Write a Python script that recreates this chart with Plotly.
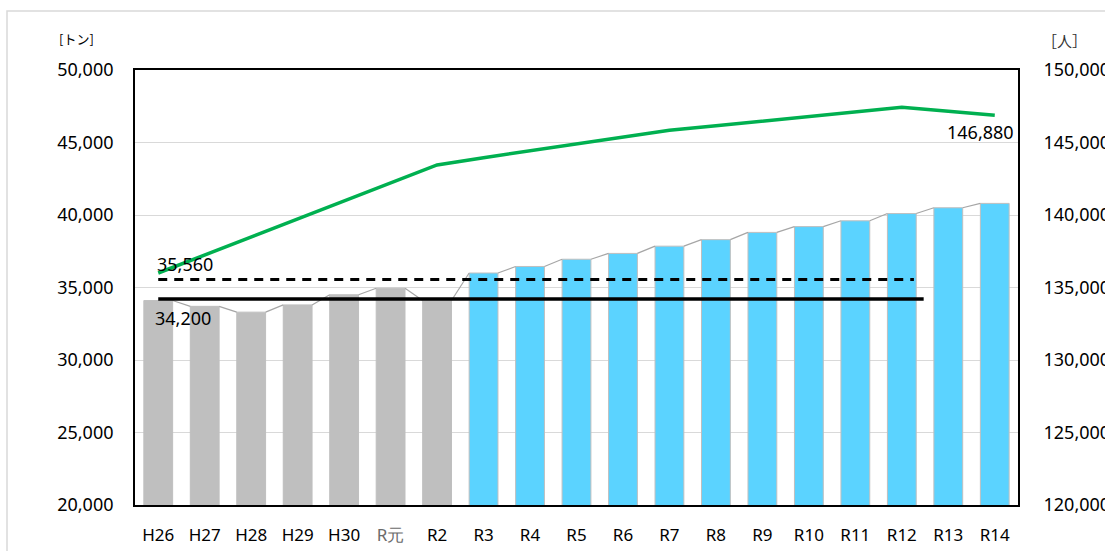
import plotly.graph_objects as go

categories = ["H26", "H27", "H28", "H29", "H30", "R元", "R2", "R3", "R4", "R5",
              "R6", "R7", "R8", "R9", "R10", "R11", "R12", "R13", "R14"]
actual_tons = [34100, 33700, 33300, 33800, 34500, 34950, 34100]
forecast_tons = [36000, 36450, 36950, 37350, 37850, 38300, 38800, 39200,
                 39600, 40100, 40500, 40800]
population = [136000, 137250, 138500, 139750, 140950, 142200, 143450, 143950,
              144430, 144900, 145380, 145850, 146150, 146480, 146800, 147120,
              147430, 147150, 146880]
target_dashed = 35560
target_solid = 34200
dashed_end_pos = 16.26
solid_end_pos = 16.47

BAR_W = 0.62
FONT = "Noto Sans"

n = len(categories)
xs = list(range(n))
all_tons = actual_tons + forecast_tons

fig = go.Figure()

fig.add_trace(go.Bar(x=xs[:len(actual_tons)], y=actual_tons, width=BAR_W,
                     marker=dict(color="#BFBFBF", line=dict(color="#BFBFBF", width=1)),
                     showlegend=False))
fig.add_trace(go.Bar(x=xs[len(actual_tons):], y=forecast_tons, width=BAR_W,
                     marker=dict(color="#5BD3FF", line=dict(color="#BFBFBF", width=1)),
                     showlegend=False))

# series lines connecting bar tops
sx, sy = [], []
for i in range(n - 1):
    sx += [xs[i] + BAR_W / 2, xs[i + 1] - BAR_W / 2, None]
    sy += [all_tons[i], all_tons[i + 1], None]
fig.add_trace(go.Scatter(x=sx, y=sy, mode="lines",
                         line=dict(color="#A6A6A6", width=1.2), showlegend=False,
                         hoverinfo="skip"))

fig.add_trace(go.Scatter(x=[xs[0], dashed_end_pos], y=[target_dashed] * 2, mode="lines",
                         line=dict(color="black", width=3, dash="9px,7px"),
                         showlegend=False))
fig.add_trace(go.Scatter(x=[xs[0], solid_end_pos], y=[target_solid] * 2, mode="lines",
                         line=dict(color="black", width=3.5),
                         showlegend=False))

fig.add_trace(go.Scatter(x=xs, y=population, mode="lines", yaxis="y2",
                         line=dict(color="#00B050", width=3.5), showlegend=False))

ticktext = [c if c != "R元" else '<span style="color:#6b6b6b">R元</span>' for c in categories]

fig.update_layout(
    width=1105, height=551,
    margin=dict(l=135, r=87, t=70, b=46, autoexpand=False),
    paper_bgcolor="white", plot_bgcolor="white",
    font=dict(family=FONT, size=18, color="black"),
    bargap=0.38,
    xaxis=dict(range=[-0.5, n - 0.5], tickvals=xs, ticktext=ticktext,
               showline=True, linecolor="black", linewidth=1.8, mirror=True,
               showgrid=False, ticks="", ticklabelstandoff=14, automargin=False,
               tickfont=dict(size=17)),
    yaxis=dict(range=[20000, 50000], dtick=5000, tickformat=",",
               showline=True, linecolor="black", linewidth=1.8,
               showgrid=True, gridcolor="#D9D9D9", gridwidth=1, zeroline=False,
               ticks="", ticklabelstandoff=16, automargin=False, tickfont=dict(size=18)),
    yaxis2=dict(range=[120000, 150000], dtick=5000, tickformat=",",
                overlaying="y", side="right",
                showline=True, linecolor="black", linewidth=1.8,
                showgrid=False, zeroline=False, automargin=False,
                ticks="", ticklabelstandoff=20, tickfont=dict(size=18)),
)

fig.add_shape(type="rect", xref="paper", yref="paper",
              x0=(7 - 135) / 883, x1=1.2, y0=-0.2, y1=(505 - 11) / 435,
              line=dict(color="#D9D9D9", width=1.5), layer="below")

fig.add_annotation(x=0, y=target_dashed, xref="x", yref="y", text=f"{target_dashed:,}",
                   showarrow=False, xanchor="left", yanchor="bottom", xshift=-3, yshift=1,
                   font=dict(size=18, color="black"))
fig.add_annotation(x=0, y=target_solid, xref="x", yref="y", text=f"{target_solid:,}",
                   showarrow=False, xanchor="left", yanchor="top", xshift=-5, yshift=-5,
                   font=dict(size=18, color="black"))
fig.add_annotation(x=xs[-1], y=population[-1], xref="x", yref="y2",
                   text=f"{population[-1]:,}", showarrow=False,
                   xanchor="right", yanchor="top", xshift=21, yshift=-3,
                   font=dict(size=18, color="black"))

fig.add_annotation(x=(57 - 135) / 883, y=(505 - 38) / 435, xref="paper", yref="paper",
                   text="[トン]", showarrow=False, xanchor="left", yanchor="middle",
                   font=dict(size=13, color="black", family="Noto Sans CJK JP"))
fig.add_annotation(x=(1040 - 135) / 883, y=(505 - 40) / 435, xref="paper", yref="paper",
                   text="［人］", showarrow=False, xanchor="left", yanchor="middle",
                   font=dict(size=15, color="#333333", family="Noto Sans CJK JP"))

fig.write_html("out.html", config={"displayModeBar": False},
               post_script="document.body.style.margin='0';document.body.style.overflow='hidden';")
